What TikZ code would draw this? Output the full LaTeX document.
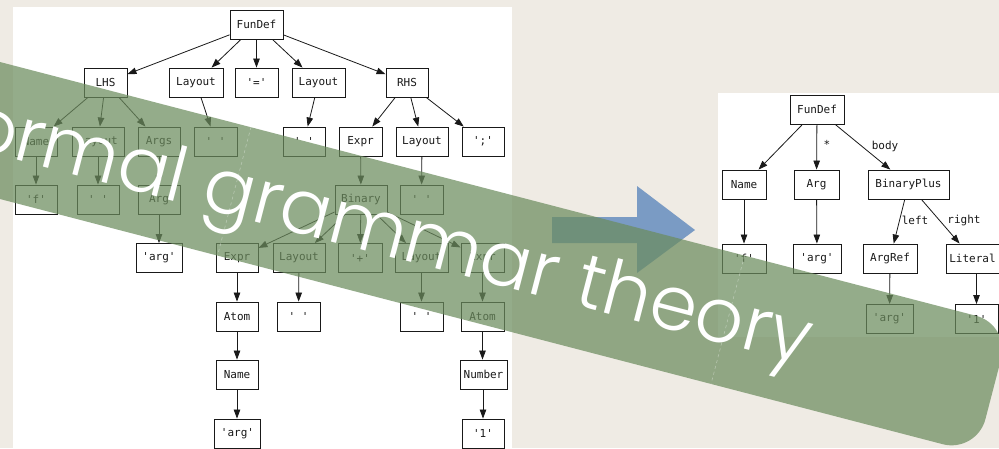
\documentclass[tikz,border=0pt]{standalone}
\usepackage{fontspec}
\setmonofont{DejaVu Sans Mono}
\IfFontExistsTF{Poppins Light}{\newfontfamily\bannerfont{Poppins Light}}{\newfontfamily\bannerfont{Poppins}}
\usetikzlibrary{arrows.meta}
\definecolor{bgc}{RGB}{239,235,228}
\definecolor{bandc}{RGB}{108,140,94}
\definecolor{arrowc}{RGB}{122,155,196}
\definecolor{inkc}{RGB}{25,25,25}
\tikzset{
  tn/.style={draw=inkc, line width=0.9pt, minimum height=29pt, inner sep=0pt,
    font=\ttfamily\fontsize{11}{13}\selectfont, text=inkc},
  ed/.style={-{Triangle[length=9pt,width=6.5pt]}, line width=0.8pt, draw=inkc},
  lab/.style={font=\ttfamily\fontsize{11}{13}\selectfont, text=inkc, inner sep=0pt},
  panel/.style={fill=white, draw=none},
}
\begin{document}
\begin{tikzpicture}[x=1pt,y=-1pt]
\useasboundingbox (0,0) rectangle (999,448);
\clip (0,0) rectangle (999,448);
\fill[bgc] (0,0) rectangle (999,448);
% panels
\fill[panel] (13,7) rectangle (512,449);
\fill[panel] (718,93) rectangle (1000,337);

% ---------- left tree ----------
\node[tn,minimum width=53pt] (fd) at (256.5,24.5) {FunDef};
\node[tn,minimum width=43pt] (lhs) at (105.5,82.5) {LHS};
\node[tn,minimum width=54pt] (laya) at (196,82.5) {Layout};
\node[tn,minimum width=43pt] (eq) at (256.5,82.5) {'='};
\node[tn,minimum width=53pt] (layb) at (318.5,82.5) {Layout};
\node[tn,minimum width=42pt] (rhs) at (407,82.5) {RHS};
\node[tn,minimum width=42pt] (name) at (36,141.5) {Name};
\node[tn,minimum width=52pt] (layc) at (98,141.5) {Layout};
\node[tn,minimum width=42pt] (args) at (159,141.5) {Args};
\node[tn,minimum width=43pt] (spa) at (215.5,141.5) {' '};
\node[tn,minimum width=42pt] (spb) at (304,141.5) {' '};
\node[tn,minimum width=43pt] (expr) at (360.5,141.5) {Expr};
\node[tn,minimum width=52pt] (layd) at (422,141.5) {Layout};
\node[tn,minimum width=42pt] (semi) at (483,141.5) {';'};
\node[tn,minimum width=42pt] (fq) at (36,199.5) {'f'};
\node[tn,minimum width=42pt] (spc) at (98,199.5) {' '};
\node[tn,minimum width=42pt] (arg) at (159,199.5) {Arg};
\node[tn,minimum width=52pt] (bin) at (361,199.5) {Binary};
\node[tn,minimum width=43pt] (spd) at (421.5,199.5) {' '};
\node[tn,minimum width=46pt] (argq) at (159,258) {'arg'};
\node[tn,minimum width=42pt] (exl) at (237,258) {Expr};
\node[tn,minimum width=52pt] (laye) at (299,258) {Layout};
\node[tn,minimum width=44pt] (plus) at (360,258) {'+'};
\node[tn,minimum width=53pt] (layf) at (421.5,258) {Layout};
\node[tn,minimum width=43pt] (exr) at (482.5,258) {Expr};
\node[tn,minimum width=42pt] (atl) at (237,316.5) {Atom};
\node[tn,minimum width=43pt] (spe) at (298.5,316.5) {' '};
\node[tn,minimum width=43pt] (spf) at (421.5,316.5) {' '};
\node[tn,minimum width=43pt] (atr) at (482.5,316.5) {Atom};
\node[tn,minimum width=42pt] (namel) at (237,374.5) {Name};
\node[tn,minimum width=47pt] (num) at (483.5,374.5) {Number};
\node[tn,minimum width=46pt] (argq2) at (237.5,433.5) {'arg'};
\node[tn,minimum width=42pt] (one) at (483,433.5) {'1'};

\foreach \a/\b in {fd/lhs,fd/laya,fd/eq,fd/layb,fd/rhs,
  lhs/name,lhs/layc,lhs/args,laya/spa,layb/spb,rhs/expr,rhs/layd,rhs/semi,
  name/fq,layc/spc,args/arg,expr/bin,layd/spd,arg/argq,
  bin/exl,bin/laye,bin/plus,bin/layf,bin/exr,
  exl/atl,laye/spe,layf/spf,exr/atr,atl/namel}
  \draw[ed] (\a) -- (\b);
\draw[ed] (atr.south) -- (atr.south |- num.north);
\draw[ed] (namel.south) -- (namel.south |- argq2.north);
\draw[ed] (one.north |- num.south) -- (one.north);

% ---------- right tree ----------
\node[tn,minimum width=54pt] (fd2) at (817,109.5) {FunDef};
\node[tn,minimum width=44pt] (name2) at (744,184.5) {Name};
\node[tn,minimum width=45pt] (arg2) at (816.5,184.5) {Arg};
\node[tn,minimum width=81pt] (bp) at (908.5,184.5) {BinaryPlus};
\node[tn,minimum width=44pt] (f2) at (744,258.5) {'f'};
\node[tn,minimum width=48pt] (argq3) at (817,258.5) {'arg'};
\node[tn,minimum width=54pt] (aref) at (890,258.5) {ArgRef};
\node[tn,minimum width=53pt] (lit) at (972.5,258.5) {Literal};
\node[tn,minimum width=47pt] (argq4) at (889.5,319) {'arg'};
\node[tn,minimum width=43pt] (one2) at (976.5,319) {'1'};
\foreach \a/\b in {fd2/name2,fd2/arg2,fd2/bp,name2/f2,arg2/argq3,bp/aref,bp/lit,aref/argq4}
  \draw[ed] (\a) -- (\b);
\draw[ed] (one2.north |- lit.south) -- (one2.north);
\node[lab] (lstar) at (827,144) {*};
\node[lab] (lbody) at (885,146) {body};
\node[lab] (lleft) at (915,220) {left};
\node[lab] (lright) at (964,220) {right};

% ---------- blue arrow ----------
\fill[arrowc] (552,217) -- (637,217) -- (637,186) -- (695,230) -- (637,273) -- (637,243) -- (552,243) -- cycle;

% ---------- green band ----------
\fill[bandc, opacity=0.72, rounded corners=35pt]
  (-200,10) -- (1010,324.6) -- (976.6,453) -- (-200,147) -- cycle;
\draw[white, opacity=0.35, dashed, line width=0.6pt] (251,127) -- (217.5,255.6);
\draw[white, opacity=0.35, dashed, line width=0.6pt] (744.5,255.6) -- (711,384);

\node[font=\bannerfont\fontsize{76}{76}\selectfont, text=white, rotate=-14.57,
  anchor=base east, inner sep=0pt] (banner) at (805,365) {formal grammar theory};
\end{tikzpicture}
\end{document}
